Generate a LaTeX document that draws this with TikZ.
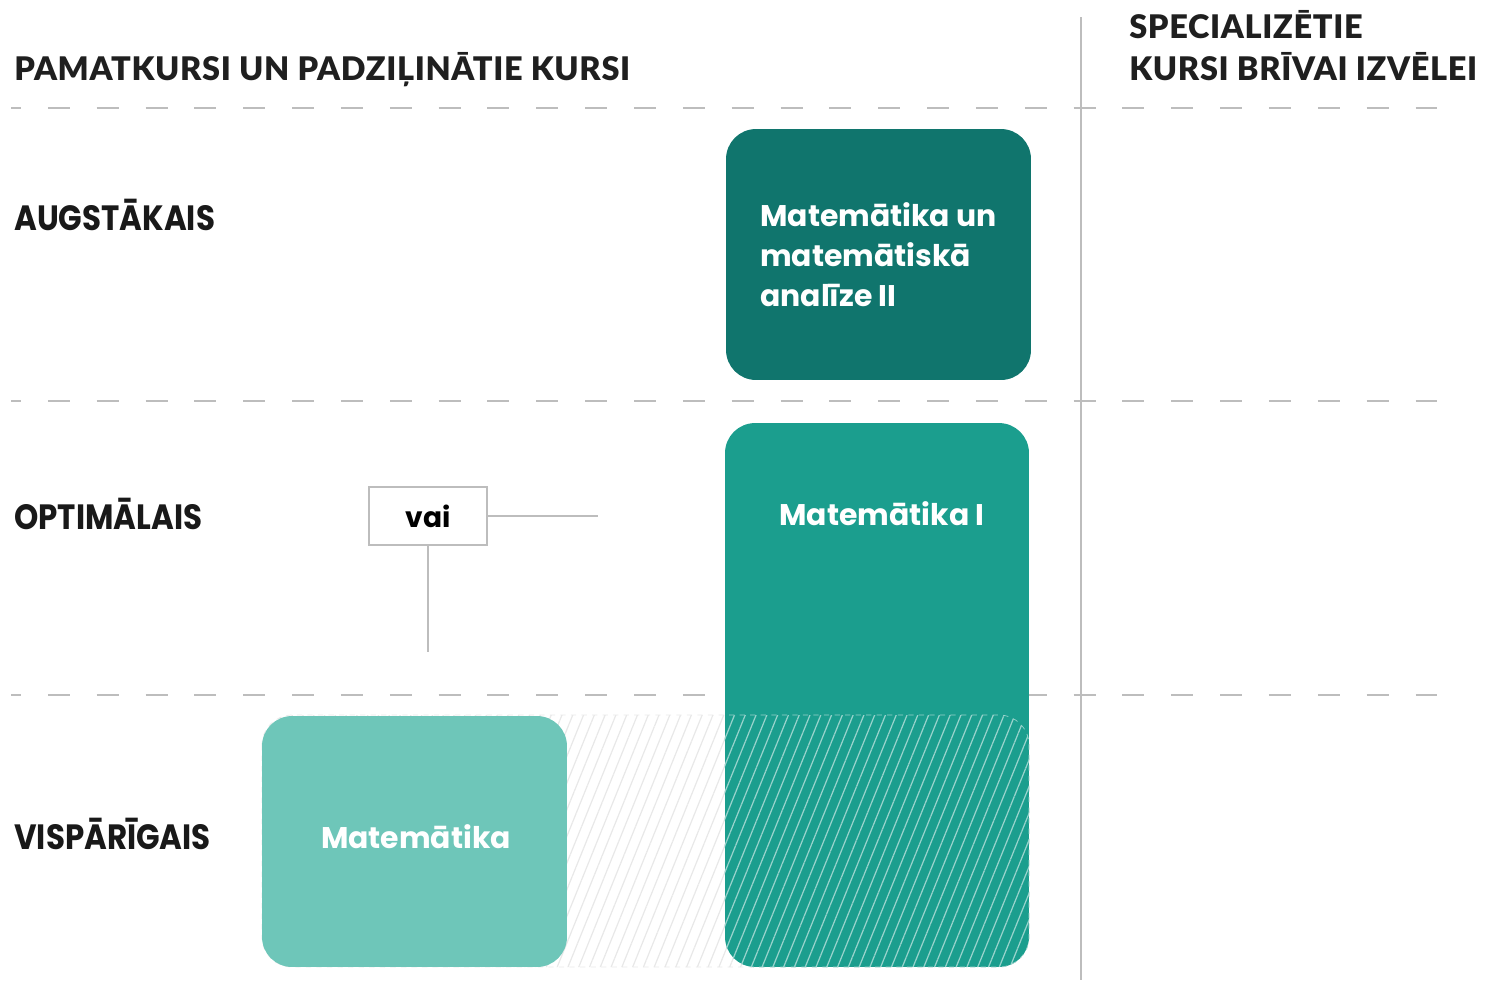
\documentclass[tikz,border=0pt]{standalone}
\usepackage{fontspec}
\setmainfont{Poppins}
\newfontfamily\latofont[BoldFont={Lato Black},LetterSpace=2]{Lato}
\newfontfamily\levelfont[FakeStretch=0.88]{Poppins}
\usetikzlibrary{patterns.meta}

\definecolor{tealdark}{HTML}{10756D}
\definecolor{tealmid}{HTML}{1B9E8E}
\definecolor{teallight}{HTML}{6EC6B9}
\definecolor{rulegray}{HTML}{BDBDBD}

\begin{document}
\begin{tikzpicture}[x=0.02cm,y=-0.02cm,
    headtext/.style={anchor=base west,inner sep=0pt,text=black!88,
      font=\latofont\bfseries\fontsize{18.5}{22}\selectfont},
    rowlabel/.style={anchor=west,inner sep=0pt,text=black!90,
      font=\levelfont\bfseries\fontsize{20}{24}\selectfont},
    coursebox/.style={rounded corners=0.6cm,inner sep=0pt},
    coursetext/.style={text=white,inner sep=0pt,
      font=\bfseries\fontsize{17}{22.7}\selectfont},
    sepline/.style={rulegray,line width=1.1pt,dash pattern=on 12.5pt off 15.3pt,dash phase=6.8pt},
    hatch/.style={pattern={Lines[angle=68,distance=0.2cm,line width=0.7pt]}}]
      % \draw[help lines](0,0) grid[step=100] (1488,985);

      % Bounding box
      \useasboundingbox (0,0) rectangle (1488,985);

      % headers
      \node[headtext] (pamat) at (14,80) {PAMATKURSI UN PADZIĻINĀTIE KURSI};
      \node[headtext] (spec) at (1129,38) {SPECIALIZĒTIE};
      \node[headtext] (brivai) at (1129,80) {KURSI BRĪVAI IZVĒLEI};

      \foreach \y in {108,401,695}
        \draw[sepline] (11,\y) -- (1445,\y);
      \draw[rulegray,line width=1.2pt] (1081,17) -- (1081,980);

      % levels
      \node[rowlabel] (augst) at (14,215) {AUGSTĀKAIS};
      \node[rowlabel] (optim) at (14,514) {OPTIMĀLAIS};
      \node[rowlabel] (visp) at (14,834) {VISPĀRĪGAIS};

      % hatched part
      \fill[hatch,pattern color=black!9,rounded corners=0.6cm] (262,715) rectangle (1029,967);
      \draw[black!9,dashed,rounded corners=0.6cm] (262,715) rectangle (1029,967);

      \node[coursebox,fill=tealdark,minimum width=6.1cm,minimum height=5.02cm] (anal) at (878.5,254.5) {};
      \node[coursebox,fill=tealmid,minimum width=6.08cm,minimum height=10.88cm] (mat1) at (877,695) {};
      \begin{scope}
        \clip[rounded corners=0.6cm] (mat1.north west) rectangle (mat1.south east);
        \fill[hatch,pattern color=white!55!tealmid,rounded corners=0.6cm] (262,715) rectangle (1029,967);
        \draw[white!55!tealmid,dashed,rounded corners=0.6cm] (262,715) rectangle (1029,967);
      \end{scope}
      \node[coursebox,fill=teallight,minimum width=6.1cm,minimum height=5.02cm] (mat) at (414.5,841.5) {};

      \node[coursetext,anchor=west,align=left] (analtext) at (760,255) {Matemātika un\\matemātiskā\\analīze II};
      \node[coursetext] (mat1text) at (882,514) {Matemātika I};
      \node[coursetext] (mattext) at (416,837) {Matemātika};

      % or
      \node[draw=rulegray,line width=1.1pt,minimum width=2.36cm,minimum height=1.16cm,
        font=\bfseries\fontsize{16}{18}\selectfont] (vai) at (428,516) {vai};
      \coordinate (vaiend) at (598,516);
      \coordinate (vaidown) at (428,652);
      \draw[rulegray,line width=1.1pt] (vai.east) -- (vaiend);
      \draw[rulegray,line width=1.1pt] (vai.south) -- (vaidown);
\end{tikzpicture}
\end{document}
